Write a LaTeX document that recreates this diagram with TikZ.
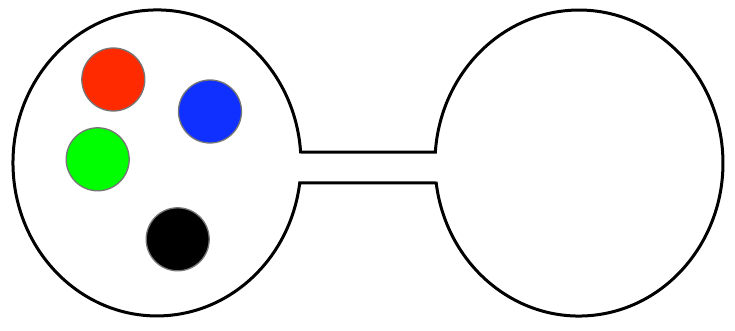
\documentclass[tikz,border=0pt]{standalone}
\usepackage{xcolor}
\usepackage{tikz}
\usetikzlibrary{calc}

\definecolor{ballred}{RGB}{255,42,0}
\definecolor{ballblue}{RGB}{16,48,255}
\definecolor{ballgreen}{RGB}{0,255,0}
\definecolor{rimgray}{RGB}{118,118,118}

\begin{document}
\begin{tikzpicture}[
  x=1pt, y=-1pt,
  wall/.style={draw=black, line width=3pt, line join=miter},
  ball/.style={circle, draw=rimgray, line width=1.3pt,
               minimum size=63pt, inner sep=0pt},
]
\useasboundingbox (0,0) rectangle (735,331);

% the two chambers joined by the narrow channel
\draw[wall] (300.6,152)
  arc[start angle=-4.1, end angle=-352.5, x radius=144, y radius=153]
  -- (436.2,183)
  arc[start angle=172.5, end angle=-175.9, x radius=144, y radius=153]
  -- cycle;

% balls in the left chamber
\node[ball, fill=ballred]   at (113.3, 79.5)  (red)   {};
\node[ball, fill=ballblue]  at (210.0,111.5)  (blue)  {};
\node[ball, fill=ballgreen] at ( 97.7,159.3)  (green) {};
\node[ball, fill=black]     at (177.7,239.3)  (black) {};
\end{tikzpicture}
\end{document}
